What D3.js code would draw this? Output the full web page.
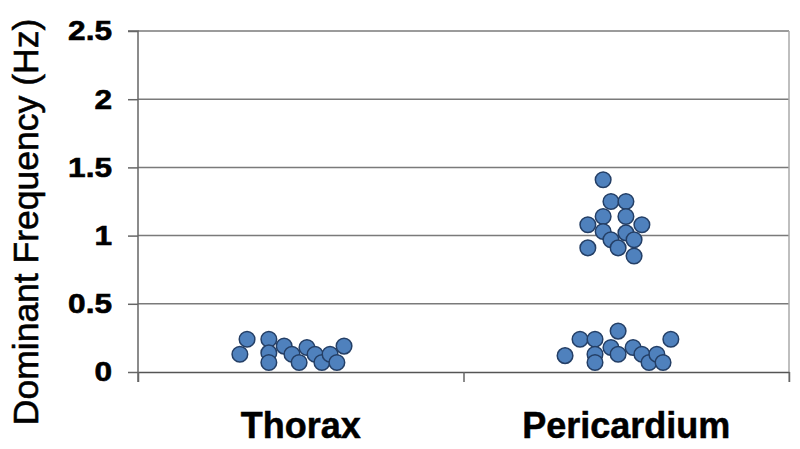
<!DOCTYPE html>
<html>
<head>
<meta charset="utf-8">
<script src="https://cdn.jsdelivr.net/npm/d3@7"></script>
<style>
  html, body { margin: 0; padding: 0; background: #fff; }
  svg { display: block; }
</style>
</head>
<body>
<svg id="chart" width="800" height="449"></svg>
<script>
// ---- data ----
const categories = ["Thorax", "Pericardium"];
const categoryPositions = [0.5, 1.5];
const yTicks = [0, 0.5, 1, 1.5, 2, 2.5];
const yTickLabels = ["0", "0.5", "1", "1.5", "2", "2.5"];
const yTitle = "Dominant Frequency (Hz)";

const thoraxX = [0.313, 0.335, 0.402, 0.402, 0.402, 0.449, 0.473, 0.495, 0.519, 0.544, 0.565, 0.590, 0.611, 0.633];
const thoraxY = [0.13, 0.24, 0.24, 0.14, 0.07, 0.19, 0.13, 0.07, 0.18, 0.13, 0.07, 0.13, 0.07, 0.19];

const pericardiumX = [1.429, 1.453, 1.499, 1.429, 1.499, 1.382, 1.548, 1.429, 1.499, 1.453, 1.524, 1.475, 1.382, 1.524,
                      1.312, 1.358, 1.404, 1.404, 1.404, 1.475, 1.453, 1.475, 1.521, 1.548, 1.570, 1.594, 1.613, 1.637];
const pericardiumY = [1.41, 1.25, 1.25, 1.14, 1.14, 1.08, 1.08, 1.03, 1.02, 0.97, 0.97, 0.91, 0.91, 0.85,
                      0.12, 0.24, 0.24, 0.13, 0.07, 0.30, 0.18, 0.13, 0.18, 0.13, 0.07, 0.13, 0.07, 0.24];

// ---- layout ----
const W = 800, H = 449;
const margin = { left: 138, right: 11, top: 31, bottom: 77 };
const svg = d3.select("#chart");

const x = d3.scaleLinear().domain([0, 2]).range([margin.left, W - margin.right]);
const y = d3.scaleLinear().domain([0, 2.5]).range([H - margin.bottom, margin.top]);

const gridColor = "#7a7a7a";
const axisColor = "#666";

// gridlines
svg.append("g")
  .selectAll("line")
  .data(yTicks.filter(d => d > 0))
  .join("line")
  .attr("x1", x(0)).attr("x2", x(2))
  .attr("y1", d => y(d)).attr("y2", d => y(d))
  .attr("stroke", gridColor).attr("stroke-width", 1.5);

// right border
svg.append("line")
  .attr("x1", x(2)).attr("x2", x(2))
  .attr("y1", y(2.5)).attr("y2", y(0) + 10)
  .attr("stroke", "#aaa").attr("stroke-width", 1.5);

// y axis
const yAxis = d3.axisLeft(y)
  .tickValues(yTicks)
  .tickFormat((d, i) => yTickLabels[i])
  .tickSize(10)
  .tickPadding(16);
const gy = svg.append("g")
  .attr("transform", `translate(${x(0)},0)`)
  .call(yAxis);
gy.select(".domain").attr("stroke", axisColor).attr("stroke-width", 1.5)
  .attr("d", `M-10,${y(2.5)}H0V${y(0) + 10}`);
gy.selectAll(".tick line").attr("stroke", axisColor).attr("stroke-width", 1.5);
gy.selectAll(".tick text")
  .attr("font-family", "Liberation Sans, Arial, sans-serif")
  .attr("font-weight", "bold")
  .attr("font-size", 27.5)
  .attr("fill", "#000")
  .attr("stroke", "#000")
  .attr("stroke-width", 0.6)
  .attr("x", -26 / 1.15)
  .attr("transform", "scale(1.15,1)");

// x axis
const xAxis = d3.axisBottom(x)
  .tickValues([0, 1, 2])
  .tickFormat("")
  .tickSize(10)
  .tickSizeOuter(0);
const gx = svg.append("g")
  .attr("transform", `translate(0,${y(0)})`)
  .call(xAxis);
gx.select(".domain").attr("stroke", "#555").attr("stroke-width", 1.5);
gx.selectAll(".tick line").attr("stroke", axisColor).attr("stroke-width", 1.5);

// category labels
svg.append("g")
  .selectAll("text")
  .data(categories)
  .join("text")
  .attr("x", (d, i) => x(categoryPositions[i]))
  .attr("y", 438)
  .attr("text-anchor", "middle")
  .attr("font-family", "Liberation Sans, Arial, sans-serif")
  .attr("font-weight", "bold")
  .attr("font-size", 36)
  .attr("fill", "#000")
  .attr("stroke", "#000")
  .attr("stroke-width", 0.5)
  .text(d => d);

// y title
svg.append("text")
  .attr("transform", `translate(38,${222}) rotate(-90)`)
  .attr("text-anchor", "middle")
  .attr("font-family", "Liberation Sans, Arial, sans-serif")
  .attr("font-size", 35.5)
  .attr("fill", "#000")
  .attr("stroke", "#000")
  .attr("stroke-width", 0.6)
  .text(yTitle);

// points
const points = thoraxX.map((v, i) => ({ x: v, y: thoraxY[i] }))
  .concat(pericardiumX.map((v, i) => ({ x: v, y: pericardiumY[i] })));

svg.append("g")
  .selectAll("circle")
  .data(points)
  .join("circle")
  .attr("cx", d => x(d.x))
  .attr("cy", d => y(d.y))
  .attr("r", 7.8)
  .attr("fill", "#4f81bd")
  .attr("stroke", "#243f66")
  .attr("stroke-width", 1.5);
</script>
</body>
</html>
